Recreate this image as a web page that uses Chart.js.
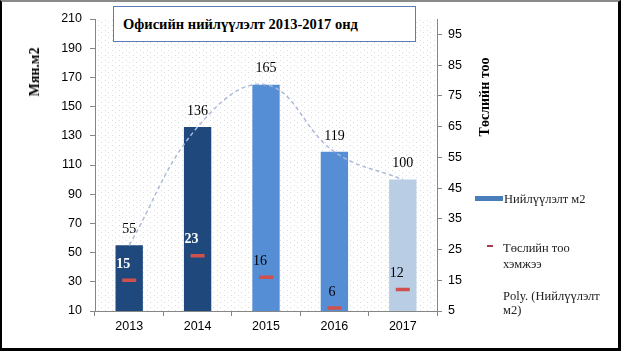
<!DOCTYPE html>
<html>
<head>
<meta charset="utf-8">
<script src="https://cdn.jsdelivr.net/npm/chart.js@4"></script>
<style>
  html, body { margin:0; padding:0; background:#fff; }
  #wrap { position:relative; width:621px; height:353px; overflow:hidden; }
  canvas { position:absolute; left:0; top:0; }
  .frame { position:absolute; left:0; top:0; width:621px; height:351px; box-sizing:border-box;
           border-top:2px solid #8a8a8a; border-left:2px solid #000; border-right:3px solid #000; border-bottom:3px solid #000; pointer-events:none; }
  .title { position:absolute; left:113px; top:6px; width:303px; height:36px; box-sizing:border-box;
           border:1px solid #5a7bb5; background:#fff; font-family:"Liberation Serif", serif; font-weight:bold;
           font-size:14.5px; line-height:34px; padding-left:9px; color:#000; white-space:nowrap; }
  .ytitle { position:absolute; font-family:"Liberation Serif", serif; font-weight:bold; font-size:14px; color:#000;
            white-space:nowrap; transform:translate(-50%,-50%) rotate(-90deg); }
  .leg { position:absolute; font-family:"Liberation Serif", serif; font-size:12.5px; color:#222; line-height:16px; white-space:nowrap; }
</style>
</head>
<body>
<div id="wrap">
  <canvas id="c" width="621" height="353"></canvas>
  <div class="title">Офисийн нийлүүлэлт 2013-2017 онд</div>
  <div class="ytitle" style="left:35px; top:72px;">Мян.м2</div>
  <div class="ytitle" style="left:485px; top:97px;">Төслийн тоо</div>
  <div style="position:absolute; left:475px; top:196px; width:28px; height:5px; background:#4a7ebb;"></div>
  <div class="leg" style="left:504px; top:191px;">Нийлүүлэлт м2</div>
  <div style="position:absolute; left:487px; top:245px; width:6px; height:2px; background:#a83a50;"></div>
  <div class="leg" style="left:503px; top:240px;">Төслийн тоо<br>хэмжээ</div>
  <div class="leg" style="left:503px; top:289px; line-height:14px;">Poly. (Нийлүүлэлт<br>м2)</div>
  <div class="frame"></div>
</div>
<script>
// ---- data ----
const years = ['2013', '2014', '2015', '2016', '2017'];
const supplyM2 = [55, 136, 165, 119, 100];        // Нийлүүлэлт, мян.м2 (left axis)
const projectCount = [15, 23, 16, 6, 12];          // Төслийн тоо хэмжээ (right axis)
const leftTicks = [10, 30, 50, 70, 90, 110, 130, 150, 170, 190, 210];
const rightTicks = [5, 15, 25, 35, 45, 55, 65, 75, 85, 95];

// ---- styles ----
const barColors = ['#1f497d', '#1f497d', '#558ed5', '#558ed5', '#b9cde5'];
const darkBar = ['#1f497d'];
const axisGray = '#868686';
const tickFont = { family: 'Liberation Sans', size: 12.5 };

const dotPattern = (() => {
  const p = document.createElement('canvas');
  p.width = 7; p.height = 5;
  const g = p.getContext('2d');
  g.fillStyle = '#dcdcdc';
  g.fillRect(0, 0, 1, 1);
  g.fillRect(3, 2, 1, 1);
  return p;
})();

const bgPlugin = {
  id: 'bgdots',
  beforeDatasetsDraw(chart) {
    const { ctx, chartArea: a } = chart;
    ctx.save();
    ctx.fillStyle = ctx.createPattern(dotPattern, 'repeat');
    ctx.fillRect(a.left, a.top, a.right - a.left, a.bottom - a.top);
    ctx.restore();
  }
};

const labelPlugin = {
  id: 'labels',
  afterDatasetsDraw(chart) {
    const ctx = chart.ctx;
    ctx.save();
    ctx.textBaseline = 'middle';
    const barMeta = chart.getDatasetMeta(0);
    barMeta.data.forEach((el, i) => {
      ctx.font = '14px "Liberation Serif"';
      ctx.fillStyle = '#000';
      ctx.textAlign = 'center';
      ctx.fillText(String(supplyM2[i]), el.x, el.y - 16);
    });
    const ptMeta = chart.getDatasetMeta(2);
    ptMeta.data.forEach((el, i) => {
      const dark = darkBar.includes(barColors[i]);
      ctx.font = (dark ? 'bold ' : '') + '14px "Liberation Serif"';
      ctx.fillStyle = dark ? '#fff' : '#000';
      ctx.textAlign = 'right';
      ctx.fillText(String(projectCount[i]), el.x + 1, el.y - 16);
    });
    ctx.restore();
  }
};

new Chart(document.getElementById('c'), {
  type: 'bar',
  data: {
    labels: years,
    datasets: [
      {
        type: 'bar', label: 'Нийлүүлэлт м2', data: supplyM2, yAxisID: 'y',
        backgroundColor: barColors, borderWidth: 0,
        categoryPercentage: 1, barPercentage: 0.4, order: 3
      },
      {
        type: 'line', label: 'Poly. (Нийлүүлэлт м2)', data: supplyM2, yAxisID: 'y',
        borderColor: '#aebbd8', borderWidth: 1.5, borderDash: [4, 3], tension: 0.4,
        pointRadius: 0, fill: false, order: 2
      },
      {
        type: 'line', label: 'Төслийн тоо хэмжээ', data: projectCount, yAxisID: 'y1',
        showLine: false, pointStyle: 'line', pointRadius: 7, pointBorderWidth: 3.5,
        borderColor: '#d0504d', backgroundColor: '#d0504d', order: 1
      }
    ]
  },
  options: {
    responsive: false,
    devicePixelRatio: 1,
    animation: false,
    layout: { padding: { top: 19, left: 0, right: 0, bottom: 0 } },
    plugins: { legend: { display: false }, tooltip: { enabled: false } },
    scales: {
      x: {
        grid: { offset: true, drawOnChartArea: false, tickLength: 5, color: axisGray },
        border: { color: axisGray },
        ticks: { font: tickFont, color: '#000', padding: 3 },
        afterFit: s => { s.height = 42; }
      },
      y: {
        position: 'left', min: 10, max: 210,
        afterBuildTicks: s => { s.ticks = leftTicks.map(v => ({ value: v })); },
        grid: { drawOnChartArea: false, tickLength: 5, color: axisGray },
        border: { color: axisGray },
        ticks: { font: tickFont, color: '#000', padding: 8 },
        afterFit: s => { s.width = 95; }
      },
      y1: {
        position: 'right', min: 5, max: 100,
        afterBuildTicks: s => { s.ticks = rightTicks.map(v => ({ value: v })); },
        grid: { drawOnChartArea: false, tickLength: 5, color: axisGray },
        border: { color: axisGray },
        ticks: { font: tickFont, color: '#000', padding: 6 },
        afterFit: s => { s.width = 184; }
      }
    }
  },
  plugins: [bgPlugin, labelPlugin]
});
</script>
</body>
</html>
